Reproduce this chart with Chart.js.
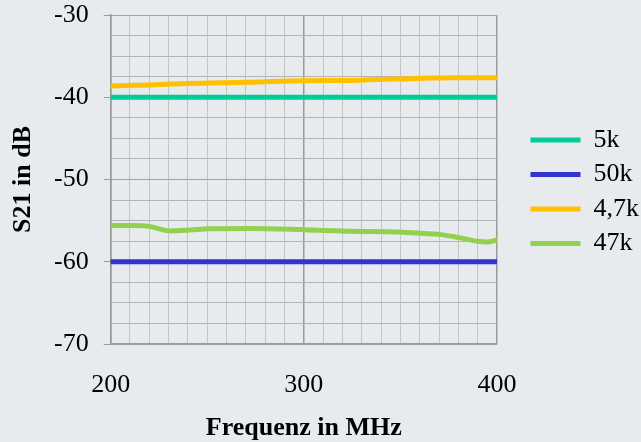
<!DOCTYPE html>
<html>
<head>
<meta charset="utf-8">
<script src="https://cdn.jsdelivr.net/npm/chart.js@4"></script>
<style>
  html, body { margin: 0; padding: 0; background: #e7ebee; }
  #wrap { width: 641px; height: 442px; position: relative; }
</style>
</head>
<body>
<div id="wrap"><canvas id="grafico"></canvas></div>
<script>
const frequenzen = [200, 212, 220, 231, 241, 251, 272, 300, 325, 342, 351, 365, 371, 381, 391, 395, 400];
const werte5k   = [-40, -40, -40, -40, -40, -40, -40, -40, -40, -40, -40, -40, -40, -40, -40, -40, -40];
const werte50k  = [-60, -60, -60, -60, -60, -60, -60, -60, -60, -60, -60, -60, -60, -60, -60, -60, -60];
const werte4k7  = [-38.63, -38.55, -38.5, -38.4, -38.33, -38.28, -38.18, -37.98, -37.95, -37.8, -37.78, -37.66, -37.65, -37.63, -37.62, -37.62, -37.62];
const werte47k  = [-55.6, -55.6, -55.7, -56.25, -56.15, -56.0, -55.95, -56.1, -56.3, -56.35, -56.4, -56.6, -56.7, -57.1, -57.55, -57.6, -57.35];
const namen = ['5k', '50k', '4,7k', '47k'];
const farben = ['#00cc96', '#3232cc', '#ffc000', '#92d050'];

const schrift = '"Liberation Serif", "Times New Roman", serif';

const punkte = (werte) => werte.map((w, i) => ({ x: frequenzen[i], y: w }));

const datensaetze = [werte5k, werte50k, werte4k7, werte47k].map((werte, i) => ({
  label: namen[i],
  data: punkte(werte),
  borderColor: farben[i],
  backgroundColor: farben[i],
  borderWidth: 5,
  borderCapStyle: 'round',
  pointRadius: 0,
  pointStyle: 'line',
  cubicInterpolationMode: 'monotone',
  yAxisID: 'y'
}));

const ctx = document.getElementById('grafico').getContext('2d');

new Chart(ctx, {
  type: 'line',
  data: { datasets: datensaetze },
  options: {
    responsive: true,
    maintainAspectRatio: false,
    animation: false,
    layout: { padding: { top: 15, left: 10, bottom: 1, right: 0 } },
    scales: {
      x: {
        type: 'linear',
        min: 200,
        max: 400,
        grid: {
          color: (c) => (c.tick && c.tick.value % 100 === 0) ? '#9a9a9a' : '#c4c4c4',
          lineWidth: (c) => (c.tick && c.tick.value % 100 === 0) ? 1.5 : 1,
          tickColor: 'rgba(0,0,0,0)',
          tickLength: 28
        },
        border: { color: '#9a9a9a', width: 1.5 },
        ticks: {
          stepSize: 10,
          autoSkip: false,
          maxRotation: 0,
          padding: 0,
          color: '#000',
          font: { family: schrift, size: 26, lineHeight: 1 },
          callback: (v) => v % 100 === 0 ? v : ''
        },
        title: {
          display: true,
          text: 'Frequenz in MHz',
          color: '#000',
          font: { family: schrift, size: 26, weight: 'bold', lineHeight: 1 },
          padding: { top: 17, bottom: 0 }
        }
      },
      y: {
        min: -70,
        max: -30,
        grid: {
          color: (c) => (c.tick && c.tick.value % 10 === 0) ? '#a3a3a3' : '#b4b4b4',
          tickColor: (c) => (c.tick && c.tick.value % 10 === 0) ? '#9a9a9a' : 'rgba(0,0,0,0)',
          tickLength: 7
        },
        border: { color: '#9a9a9a', width: 1.5 },
        ticks: {
          stepSize: 2.5,
          autoSkip: false,
          padding: 15,
          color: '#000',
          font: { family: schrift, size: 26, lineHeight: 0 },
          callback: (v) => v % 10 === 0 ? v : ''
        },
        title: {
          display: true,
          text: 'S21 in dB',
          color: '#000',
          font: { family: schrift, size: 26, weight: 'bold', lineHeight: 1 },
          padding: { top: 0, bottom: 3 }
        }
      },
      // leere Achse rechts, nur als Abstand zur Legende
      abstand: {
        type: 'linear',
        position: 'right',
        display: true,
        grid: { display: false, drawTicks: false },
        border: { display: false },
        ticks: { display: false },
        afterFit: (s) => { s.width = 25; }
      }
    },
    plugins: {
      tooltip: { enabled: false },
      legend: {
        position: 'right',
        align: 'start',
        maxWidth: 119,
        title: {
          display: true,
          text: '',
          font: { size: 12, lineHeight: 1.2 },
          padding: { top: 89, bottom: 0 }
        },
        labels: {
          usePointStyle: true,
          pointStyleWidth: 50,
          padding: 8.5,
          color: '#000',
          font: { family: schrift, size: 26 }
        }
      }
    }
  }
});
</script>
</body>
</html>
